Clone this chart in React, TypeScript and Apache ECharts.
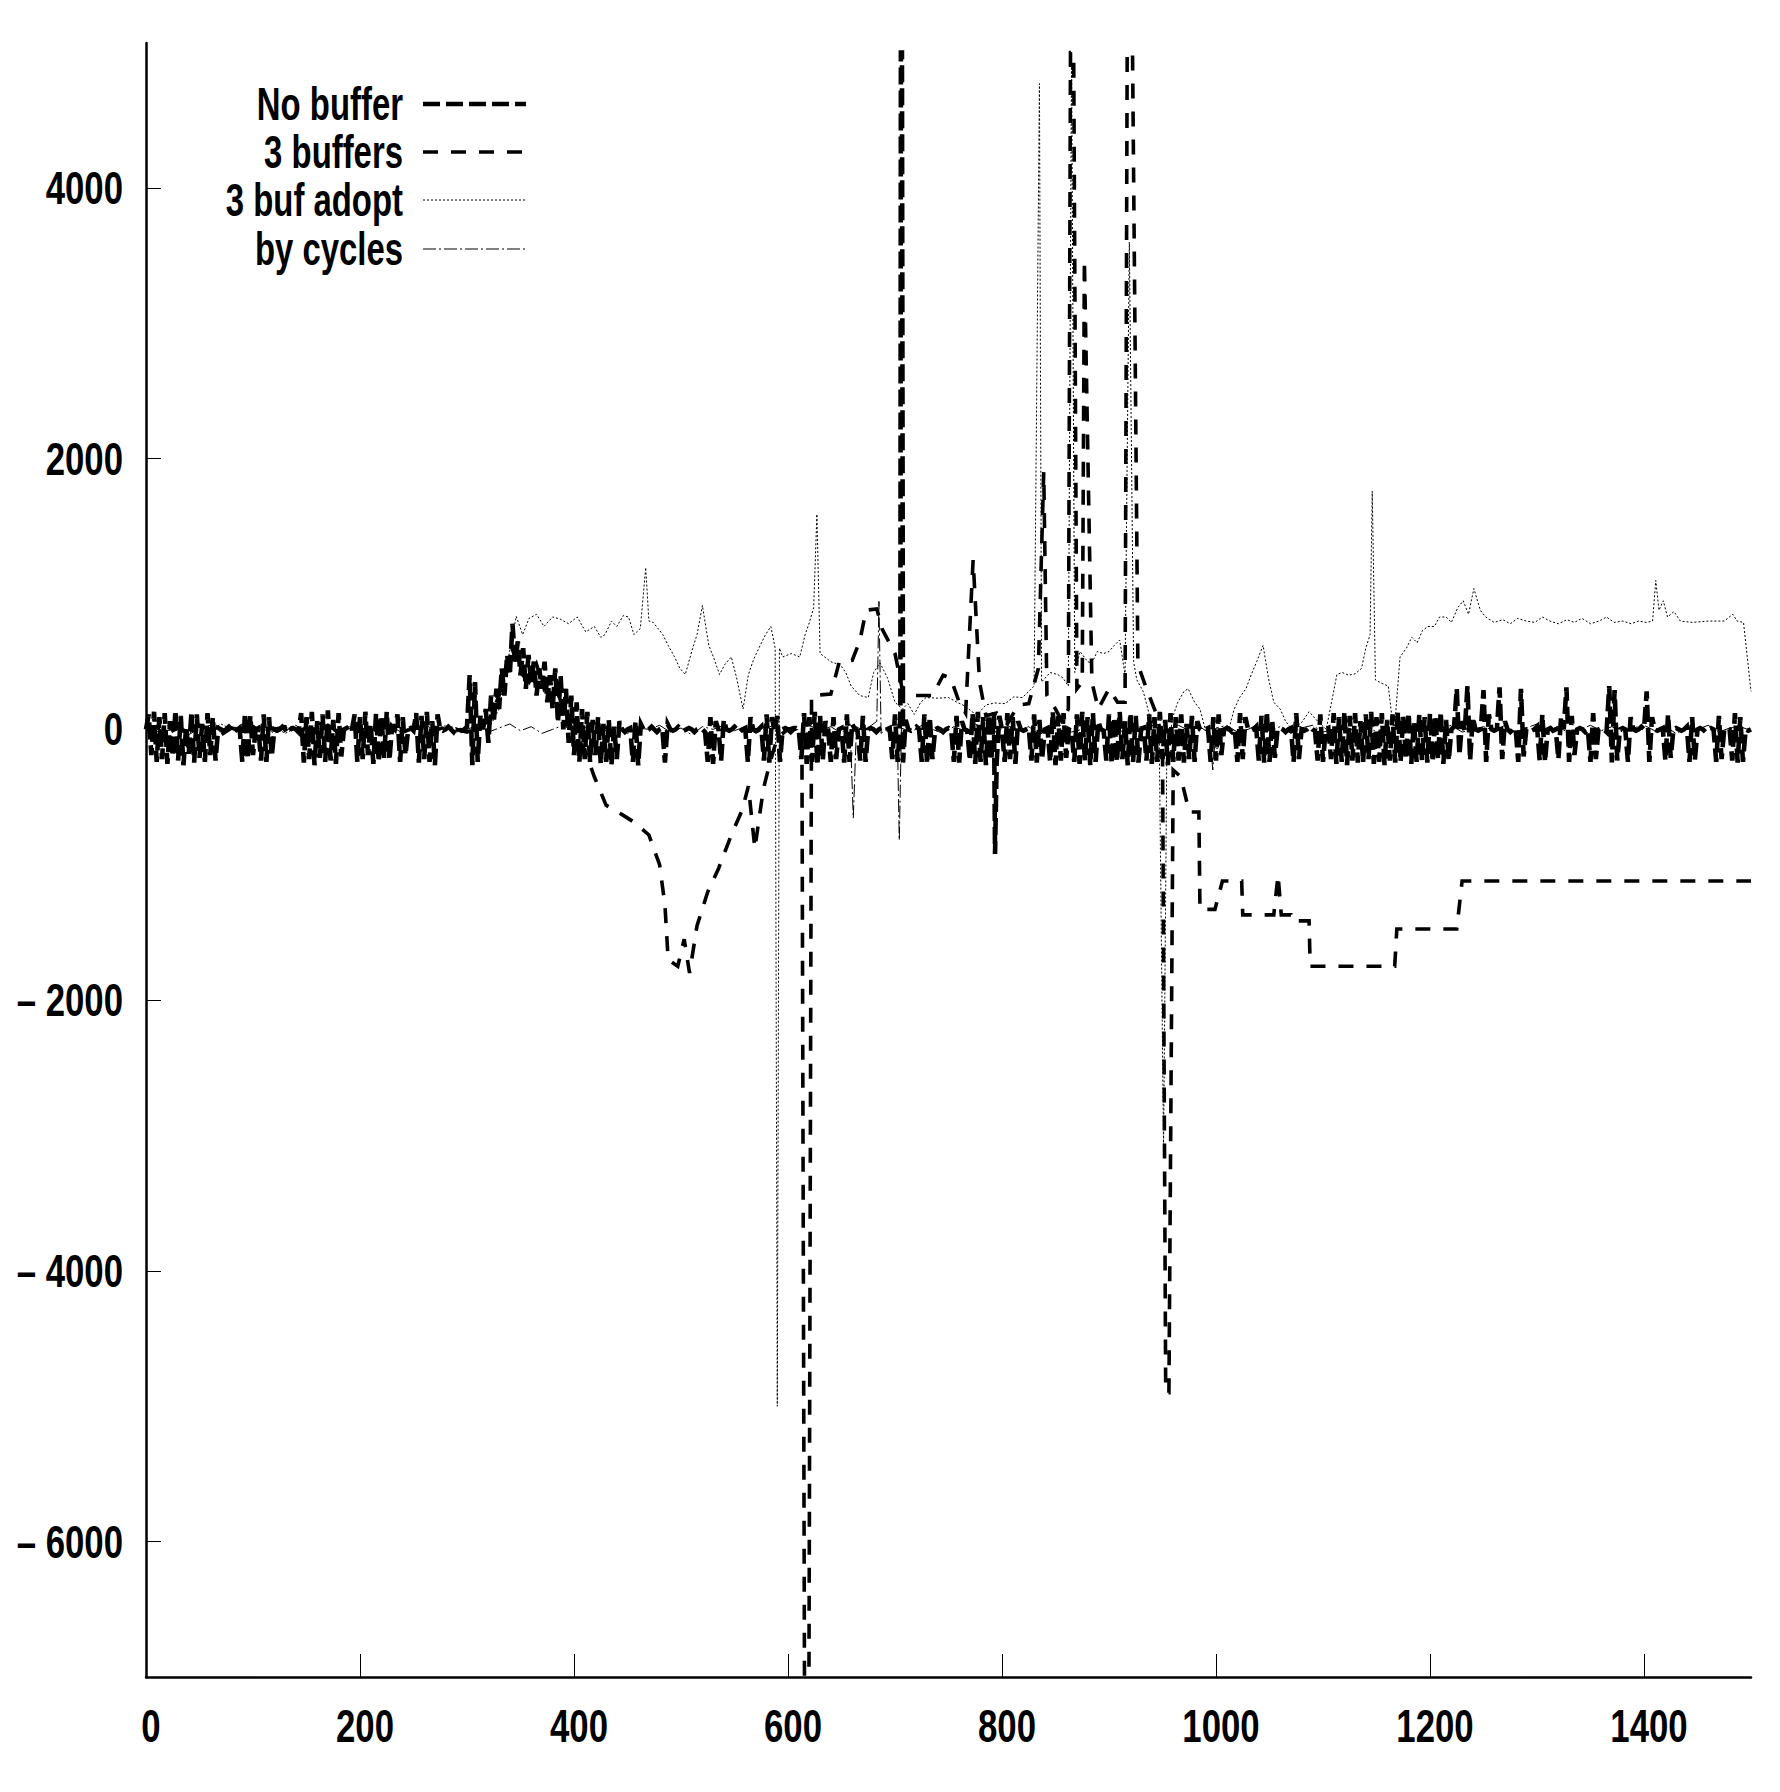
import React, { useEffect, useRef } from "react";
import * as echarts from "echarts";

// ---------- data ----------
const seriesNames = ["No buffer", "3 buffers", "3 buf adopt", "by cycles"];
const xTickValues = [0, 200, 400, 600, 800, 1000, 1200, 1400];
const yTickValues = [-6000, -4000, -2000, 0, 2000, 4000];
const xMin = 0;
const xMax = 1500;
const yMin = -7000;
const yMax = 5070;

// "No buffer": readings every 2.5 units along x (one row = 100 units), plus isolated excursions
const noBufferStep = 2.5;
const noBufferValues = [
  0, 110, -190, 130, -240, 90, -220, 120, -255, 60, -200, 140, -230, 100, -265, 20, -180, 130, -245, 110, -210, 40, -240, 120, -190, 90, -230, 10, 0, -10, 0, 20, 0, -20, 0, 10, -240, 120, -220, 100,
  -190, 0, 10, -230, 110, -240, 90, -200, 0, -10, 0, 20, 0, -30, 0, 10, 0, -20, 120, -245, 90, -220, 130, -265, 60, -210, 110, -240, 140, -230, 70, -255, 120, -200, 0, 10, -20, 0, 110, -240,
  90, -220, 130, -190, 40, -255, 120, -240, 100, -210, 130, -230, 20, 0, 110, -240, 90, -190, 0, 10, -10, 120, -245, 100, -220, 130, -240, 60, -265, 110, 0, -10, 0, 20, 0, -20, 10, 0, -10, 0,
  20, 400, -265, 350, -240, 100, 0, 150, -100, 250, 50, 300, 150, 450, 250, 550, 400, 780, 500, 650, 400, 600, 300, 550, 350, 500, 250, 450, 300, 500, 200, 400, 150, 450, 50, 400, 0, 300, -100, 250,
  -190, 200, -240, 150, -220, 130, -240, 70, -190, 90, -255, 40, -240, 70, -265, 20, -220, 60, 0, -20, 0, 10, -240, 60, -265, 40, 0, -10, 0, 20, 0, -20, 0, 10, -245, 40, 0, -10, 0, 20,
  0, -10, 0, 10, 0, -20, 0, 10, 0, -20, -240, 90, -255, 60, 0, -230, 70, 0, -10, 0, 20, 0, -20, 0, 10, -240, 90, 0, -10, 0, 20, -230, 110, -245, 90, -20, 100, -240, 0, 10,
  0, -20, 0, 10, 0, -220, 120, -255, 90, -240, 130, -265, 100, -230, 60, 0, -240, 90, -220, 0, 10, -245, 110, -240, 40, 0, -10, -230, 100, -240, 0, 10, 0, -20, 0, 10, -10, 0, 10, -220,
  110, -240, 90, -245, 70, 0, -10, 0, 20, 0, -240, 110, -255, 90, -220, 0, 10, 0, -20, 0, 10, 0, -240, 100, -245, 60, 0, -10, -230, 120, -255, 130, -240, 90, -265, 110, -230, 130, -245, 100,
  0, -240, 120, -220, 90, -255, 60, 0, -10, 0, 10, -230, 110, -245, 70, -220, 0, 10, -240, 130, -265, 100, -230, 120, -210, 0, -10, -240, 110, -255, 130, -230, 90, -265, 120, -240, 60, 0, -10, -230,
  110, -255, 90, -240, 130, -220, 60, -265, 120, -240, 100, -245, 0, 10, -230, 110, -255, 90, -240, 130, -220, 70, -265, 120, -240, 90, -230, 110, -245, 40, -220, 100, -240, 60, 0, -10, 0, 10, -240, 90,
  -230, 110, -190, 0, 10, 0, -20, 0, -240, 120, -220, 90, 0, -10, 0, 20, -230, 100, -245, 130, -240, 70, -210, 0, 10, 0, -20, 0, 10, -240, 120, -220, 0, -10, 0, 20, 0, -10, -230, 110,
  -240, 0, 10, -220, 120, -255, 90, -240, 130, -265, 100, -230, 120, -245, 60, -240, 110, -220, 130, -255, 90, -240, 120, -265, 70, -230, 110, -245, 130, -240, 100, -220, 120, -255, 60, -240, 110, -230, 90, -245,
  120, -240, 100, -220, 130, -255, 70, -230, 0, 20, 300, -190, 60, -10, 320, -230, 90, 0, -10, 0, 290, -240, 110, 0, -10, 0, 310, -220, 60, 0, -20, 0, 10, -240, 300, -200, 0, 10, -10, 0,
  20, -230, 110, -240, 0, 10, -10, 0, -220, 90, 0, 310, -240, 100, -190, 0, 10, 0, -20, 0, -240, 120, -220, 0, 10, 0, -20, 320, -245, 290, -230, 0, 10, 0, -240, 90, 0, -10, 0, 20,
  0, 280, -240, 90, 0, -10, 0, 10, -230, 110, -210, 0, 10, 0, -10, 0, 20, -240, 90, -230, 0, 10, 0, -20, 0, 10, 0, -240, 100, -220, 0, 10, 0, -230, 120, -245, 90, -240, 0, -10,
  0,
];
const noBufferExcursions: [number, number][] = [
  [705.5, 5000], [706.5, 5000], [793.5, -920],
];

const threeBuffers: [number, number][] = [
  [0, 0], [10, 20], [20, -30], [30, 10], [40, -20], [50, 30], [60, 0], [70, -40], [80, 10], [90, -10],
  [100, 20], [110, -30], [120, 0], [130, 20], [140, -20], [150, 10], [160, -10], [170, 30], [180, -20], [190, 0],
  [200, 10], [210, -30], [220, 20], [230, 0], [240, -20], [250, 10], [260, 0], [270, -10], [280, 20], [290, 0],
  [300, -20], [310, 10], [320, 60], [330, 250], [336, 450], [342, 600], [350, 420], [358, 350], [365, 480],
  [372, 300], [380, 380], [388, 200], [395, 60], [400, -20], [410, -150], [419, -350], [430, -560], [445, -630],
  [455, -680], [470, -780], [480, -1000], [485, -1300], [488, -1700], [497, -1750], [503, -1550], [508, -1800],
  [515, -1450], [525, -1200], [535, -1030], [547, -780], [557, -600], [563, -420], [569, -880], [577, -440],
  [583, -250], [590, -60], [600, 0], [608, 20], [613, -50], [615.5, -7300], [619.5, -7300], [622, 250], [640, 260],
  [648, 500], [660, 510], [667, 650], [673, 880], [683, 890], [688, 740], [700, 560], [708, 250], [735, 250],
  [745, 400], [752, 380], [760, 200], [766, 120], [773, 1250], [779, 350], [785, 100], [795, 120], [805, 40],
  [815, 180], [825, 190], [834, 450], [839, 1900], [842, 250], [850, 150], [856, 60], [862, 150], [864, 5000],
  [867, 5000], [870, 300], [875, 350], [877, 3470], [884, 350], [890, 150], [900, 300], [908, 200], [915, 200],
  [917, 5000], [922, 5000], [927, 480], [935, 300], [945, 100], [950, -100], [953, -4900], [956, -4900],
  [960, -300], [967, -350], [975, -610], [984, -610], [985, -1330], [999, -1330], [1006, -1120], [1024, -1120],
  [1025, -1370], [1054, -1370], [1058, -1075], [1061, -1370], [1070, -1370], [1071, -1415], [1087, -1415],
  [1088, -1750], [1167, -1750], [1169, -1475], [1225, -1475], [1230, -1120], [1500, -1120],
];

const threeBufAdopt: [number, number][] = [
  [0, 10], [10, -20], [20, 30], [30, 0], [40, -30], [50, 20], [60, -10], [70, 40], [80, 0], [90, -20],
  [100, 30], [110, -10], [120, 20], [130, -30], [140, 10], [150, 0], [160, -20], [170, 30], [180, -10], [190, 20],
  [200, 0], [210, -30], [220, 10], [230, 40], [240, -10], [250, 20], [260, 0], [270, -20], [280, 30], [290, 10],
  [300, -10], [310, 20], [320, 0], [330, 150], [338, 500], [346, 835], [352, 700], [358, 820], [365, 850],
  [372, 760], [380, 830], [387, 815], [395, 780], [403, 830], [411, 720], [419, 760], [425, 680], [429, 700],
  [435, 800], [440, 760], [446, 840], [451, 830], [456, 700], [462, 745], [467, 1195], [470, 800], [474, 790],
  [483, 700], [488, 620], [494, 535], [499, 450], [504, 405], [510, 575], [515, 700], [520, 915], [526, 620],
  [531, 520], [536, 405], [541, 480], [547, 535], [552, 380], [558, 150], [563, 405], [568, 520], [574, 620],
  [579, 700], [584, 760], [588, 600], [590, -5000], [592, 600], [595, 535], [603, 560], [611, 535], [616, 700],
  [620, 790], [624, 900], [627, 1590], [630, 560], [640, 500], [649, 475], [654, 420], [659, 320], [667, 250],
  [675, 235], [680, 420], [686, 490], [693, 380], [700, 200], [707, 150], [712, 190], [718, 110], [724, 200],
  [729, 235], [740, 230], [750, 235], [758, 200], [766, 170], [772, 130], [777, 110], [785, 180], [793, 195],
  [803, 190], [811, 240], [819, 235], [825, 280], [830, 320], [835, 4770], [837, 350], [845, 420], [852, 405],
  [857, 380], [862, 320], [865, 5000], [868, 420], [873, 575], [880, 500], [884, 490], [889, 575], [895, 560],
  [900, 575], [905, 620], [910, 660], [915, 400], [919, 3600], [923, 500], [926, 365], [932, 280], [938, 100],
  [942, 0], [947, -100], [951, -3100], [954, -190], [960, 100], [964, 195], [970, 280], [974, 300], [980, 200],
  [985, 150], [990, 0], [996, -80], [1001, -150], [1006, -60], [1012, 0], [1017, 150], [1022, 235], [1028, 300],
  [1033, 405], [1038, 500], [1044, 620], [1049, 380], [1054, 200], [1060, 150], [1065, 60], [1071, 0], [1080, 50],
  [1087, 130], [1095, 60], [1103, 0], [1108, 200], [1113, 405], [1118, 420], [1124, 400], [1130, 410], [1136, 450],
  [1140, 600], [1144, 700], [1146, 1760], [1149, 365], [1155, 340], [1161, 320], [1165, 50], [1167, 25],
  [1172, 535], [1178, 600], [1183, 680], [1188, 640], [1193, 730], [1198, 760], [1204, 760], [1209, 830],
  [1215, 830], [1220, 790], [1226, 900], [1231, 950], [1236, 850], [1241, 1040], [1247, 880], [1252, 830],
  [1260, 790], [1268, 810], [1275, 780], [1282, 820], [1290, 800], [1298, 790], [1305, 830], [1312, 800],
  [1320, 780], [1328, 810], [1335, 790], [1342, 820], [1350, 780], [1358, 800], [1365, 830], [1372, 790],
  [1380, 800], [1388, 780], [1395, 800], [1402, 790], [1408, 800], [1411, 1100], [1414, 880], [1418, 950],
  [1422, 830], [1428, 870], [1434, 800], [1445, 790], [1460, 800], [1475, 800], [1483, 850], [1487, 800],
  [1493, 790], [1500, 280],
];

const byCycles: [number, number][] = [
  [0, -20], [10, 30], [20, -10], [30, 20], [40, -40], [50, 10], [60, 30], [70, -20], [80, 0], [90, 40],
  [100, -10], [110, 20], [120, -30], [130, 10], [140, 30], [150, -20], [160, 0], [170, 20], [180, -40], [190, 10],
  [200, 30], [210, -10], [220, 0], [230, 20], [240, -30], [250, 10], [260, 40], [270, -10], [280, 20], [290, -20],
  [300, 0], [310, 30], [320, -20], [330, 10], [340, 40], [350, -10], [360, 20], [370, -30], [380, 0], [390, 30],
  [400, -20], [410, 10], [420, 40], [430, -10], [440, 20], [450, -30], [460, 10], [470, 0], [480, 30], [490, -20],
  [500, 10], [510, -40], [520, 20], [530, 0], [540, 30], [550, -10], [560, 20], [570, -30], [580, 10], [590, 40],
  [600, -20], [610, 0], [620, 30], [630, -10], [640, 20], [650, -30], [658, 40], [661, -656], [664, 20],
  [670, -10], [678, 30], [683, 60], [685, 945], [687, -30], [695, 20], [702, 40], [704, -820], [706, 10],
  [715, -20], [725, 30], [735, 0], [745, -30], [755, 20], [765, -10], [775, 40], [785, 0], [795, -20], [805, 30],
  [815, -10], [825, 20], [835, -40], [845, 10], [855, 30], [865, -20], [875, 0], [885, 40], [895, -10], [905, 20],
  [915, -30], [925, 10], [935, 30], [945, -20], [955, 0], [965, 30], [975, -10], [985, 20], [994, -30],
  [997, -300], [1000, 10], [1010, 30], [1020, -20], [1030, 0], [1040, 40], [1050, -10], [1060, 20], [1070, -30],
  [1080, 10], [1090, 30], [1100, -20], [1110, 0], [1120, 20], [1130, -10], [1140, 30], [1150, -20], [1160, 10],
  [1170, 40], [1180, -10], [1190, 20], [1200, -30], [1210, 10], [1220, 30], [1230, -20], [1240, 0], [1250, 20],
  [1260, -10], [1270, 30], [1280, -20], [1290, 10], [1300, 40], [1310, -10], [1320, 20], [1330, -30], [1340, 0],
  [1350, 30], [1360, -10], [1370, 20], [1380, -20], [1390, 10], [1400, 30], [1410, -10], [1420, 20], [1430, -30],
  [1440, 10], [1450, 0], [1460, 30], [1470, -20], [1480, 10], [1490, 20], [1500, -10],
];

// ---------- styling ----------
const FONT = "'Liberation Sans', Arial, Helvetica, sans-serif";
const FONT_SIZE = 47;
const LEGEND_SCALE_X = 0.7;
const TICK_SCALE_X = 0.74;
const lineStyles = [
  { width: 4.6, dash: [17, 6] },
  { width: 3.6, dash: [15, 13] },
  { width: 1, dash: [2, 2] },
  { width: 1, dash: [13, 3, 2, 3] },
];
const legendTextRight = 395;
const legendLineX1 = 415;
const legendLineX2 = 518;
const legendRowsY = [96, 144, 192, 241];
const yLabelRight = 115;
const xLabelOffsetY = 49;
const xLabelOffsetX = 5;

function buildNoBuffer(): [number, number][] {
  const pts: [number, number][] = noBufferValues.map((v, i) => [i * noBufferStep, v]);
  return pts.concat(noBufferExcursions).sort((a, b) => a[0] - b[0]);
}

function textStyle(text: string, align: string) {
  return {
    text,
    align,
    verticalAlign: "middle",
    fontFamily: FONT,
    fontSize: FONT_SIZE,
    fontWeight: "bold",
    fill: "#000",
  };
}

export default function App() {
  const ref = useRef<HTMLDivElement>(null);

  useEffect(() => {
    if (!ref.current) return;
    const chart = echarts.init(ref.current, undefined, { renderer: "svg" });
    const datasets = [buildNoBuffer(), threeBuffers, threeBufAdopt, byCycles];

    chart.setOption({
      animation: false,
      backgroundColor: "#fff",
      grid: { left: 138, right: 21, top: 35, bottom: 107, containLabel: false, outerBoundsMode: "none" },
      xAxis: {
        type: "value",
        min: xMin,
        max: xMax,
        splitLine: { show: false },
        axisLine: { onZero: false, lineStyle: { color: "#000", width: 2.5 } },
        axisTick: {
          inside: true,
          length: 23,
          customValues: xTickValues,
          lineStyle: { color: "#000", width: 1 },
        },
        axisLabel: { show: false },
      },
      yAxis: {
        type: "value",
        min: yMin,
        max: yMax,
        splitLine: { show: false },
        axisLine: { onZero: false, lineStyle: { color: "#000", width: 2.5 } },
        axisTick: {
          inside: true,
          length: 15,
          customValues: yTickValues,
          lineStyle: { color: "#000", width: 1 },
        },
        axisLabel: { show: false },
      },
      series: seriesNames.map((name, i) => ({
        name,
        type: "line",
        data: datasets[i],
        showSymbol: false,
        symbol: "none",
        clip: true,
        silent: true,
        z: 2 + i,
        lineStyle: {
          color: "#000",
          width: lineStyles[i].width,
          type: lineStyles[i].dash,
          cap: "butt",
          join: "miter",
        },
      })),
    });

    // condensed tick labels and legend, placed through the axes' own scales
    const graphic: any[] = [];
    const axisY = chart.convertToPixel({ yAxisIndex: 0 }, yMin) as number;
    yTickValues.forEach((v) => {
      const py = chart.convertToPixel({ yAxisIndex: 0 }, v) as number;
      const label = v < 0 ? "\u2013 " + Math.abs(v) : String(v);
      graphic.push({ type: "text", x: yLabelRight, y: py, scaleX: TICK_SCALE_X, silent: true, style: textStyle(label, "right") });
    });
    xTickValues.forEach((v) => {
      const px = chart.convertToPixel({ xAxisIndex: 0 }, v) as number;
      graphic.push({
        type: "text",
        x: px + xLabelOffsetX,
        y: axisY + xLabelOffsetY,
        scaleX: TICK_SCALE_X,
        silent: true,
        style: textStyle(String(v), "center"),
      });
    });
    seriesNames.forEach((name, i) => {
      graphic.push({
        type: "text",
        x: legendTextRight,
        y: legendRowsY[i],
        scaleX: LEGEND_SCALE_X,
        silent: true,
        style: textStyle(name, "right"),
      });
      graphic.push({
        type: "line",
        silent: true,
        shape: { x1: legendLineX1, y1: legendRowsY[i], x2: legendLineX2, y2: legendRowsY[i] },
        style: {
          stroke: "#000",
          lineWidth: lineStyles[i].width,
          lineDash: lineStyles[i].dash,
          lineCap: "butt",
        },
      });
    });
    chart.setOption({ graphic });

    return () => chart.dispose();
  }, []);

  return <div ref={ref} style={{ width: 1764, height: 1776 }} />;
}
